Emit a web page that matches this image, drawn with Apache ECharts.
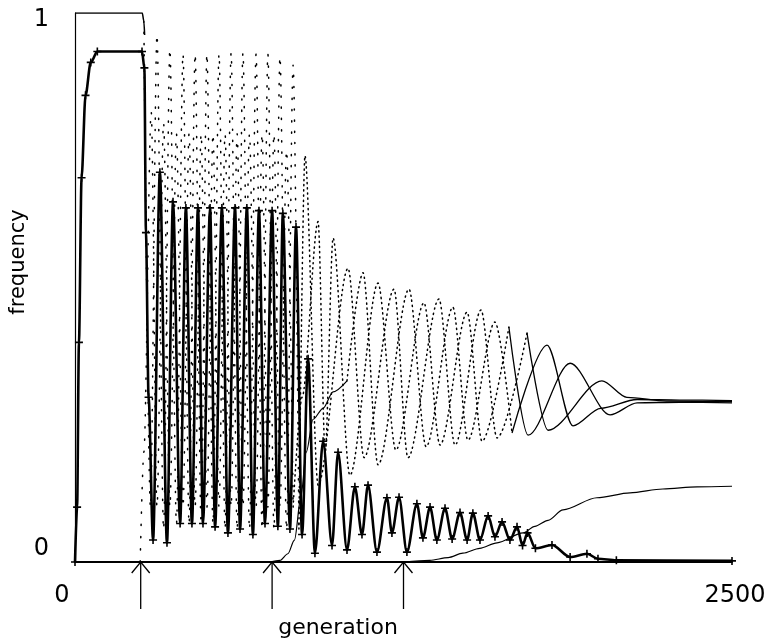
<!DOCTYPE html>
<html>
<head>
<meta charset="utf-8">
<script src="https://cdn.jsdelivr.net/npm/echarts@6/dist/echarts.min.js"></script>
<style>html,body{margin:0;padding:0;background:#fff}#c{width:776px;height:641px}</style>
</head>
<body>
<div id="c"></div>
<script>
// ---- data: [generation, frequency] ----
const xTicks = [0, 2500];
const yTicks = [0, 1];
const arrowGens = [250, 750, 1250];

// thin line at frequency 1 before the first introduction
const seriesA = [[0,1],[256,1],[262,0.985],[265,0.96]];

// thick line with crosses
const seriesB = [[0,0],[8,0.1],[15,0.4],[25,0.7],[40,0.85],[60,0.91],[85,0.93],[255,0.93],[264,0.9],[270,0.6],[280,0.3],[297,0.04],
  [323,0.71],[350,0.035],[373,0.656],[400,0.07],[422,0.645],[445,0.07],[468,0.645],[487,0.07],[514,0.645],[533,0.064],
  [559,0.645],[582,0.053],[609,0.645],[628,0.06],[654,0.645],[677,0.05],[700,0.64],[723,0.07],[750,0.64],[772,0.065],
  [791,0.635],[818,0.06],[841,0.61],[864,0.05],[887,0.37],[913,0.016],[944,0.22],[978,0.03],[1001,0.2],[1035,0.022],
  [1065,0.137],[1092,0.05],[1115,0.14],[1149,0.018],[1187,0.117],[1206,0.053],[1233,0.118],[1263,0.018],[1301,0.106],
  [1324,0.044],[1351,0.1],[1377,0.04],[1408,0.098],[1435,0.042],[1465,0.09],[1492,0.04],[1514,0.089],[1541,0.04],
  [1572,0.084],[1598,0.046],[1625,0.073],[1655,0.04],[1682,0.064],[1703,0.03],[1722,0.053],[1752,0.025],[1815,0.031],
  [1884,0.009],[1948,0.015],[1990,0.006],[2060,0.003],[2500,0.002]];

// dotted series falling from the top line: fast cycle, slower cycle, settling
const seriesC1 = [[262,0.985],[287,0.1],[312,0.96],[337,0.06],[361,0.934],[386,0.07],[411,0.925],[434,0.07],[457,0.925],
  [480,0.07],[502,0.925],[525,0.07],[548,0.925],[571,0.06],[594,0.927],[617,0.06],[639,0.927],[664,0.06],[689,0.925],
  [712,0.06],[734,0.925],[757,0.06],[780,0.92],[805,0.06],[830,0.905],[852,0.06]];
const seriesC2 = [[852,0.06],[875,0.74],[925,0.14],[1039,0.535],[1100,0.19],[1214,0.497],[1267,0.19],[1385,0.479],
  [1446,0.213],[1545,0.459],[1606,0.226],[1720,0.417]];
const seriesC3 = [[1720,0.417],[1800,0.24],[2005,0.33],[2100,0.3],[2250,0.293],[2500,0.292]];

// dotted series introduced at the first arrow
const seriesD1 = [[248,0],[262,0.2],[290,0.82],[312,0.1],[337,0.8],[361,0.1],[386,0.78],[411,0.1],[434,0.78],[457,0.1],
  [480,0.78],[502,0.1],[525,0.78],[548,0.1],[571,0.78],[594,0.1],[617,0.78],[639,0.1],[664,0.78],[689,0.1],[712,0.78],
  [734,0.1],[757,0.78],[780,0.1],[805,0.75],[830,0.1]];
const seriesD2 = [[830,0.1],[864,0.3],[925,0.62],[952,0.2],[982,0.59],[1046,0.158],[1153,0.508],[1221,0.204],[1328,0.472],
  [1389,0.213],[1492,0.455],[1549,0.22],[1651,0.428]];
const seriesD3 = [[1651,0.428],[1724,0.231],[1884,0.362],[2036,0.268],[2139,0.29],[2300,0.291],[2500,0.29]];

// thin series introduced at the second arrow (rise, cycling part, settling part)
const seriesE1 = [[742,0],[780,0.003],[810,0.015],[835,0.04],[860,0.12],[880,0.2],[906,0.26],[944,0.28],[982,0.31],[1035,0.33]];
const seriesE2 = [[1035,0.33],[1096,0.527],[1153,0.177],[1271,0.497],[1336,0.21],[1438,0.464],[1495,0.222],[1598,0.437],[1663,0.235]];
const seriesE3 = [[1663,0.235],[1796,0.395],[1895,0.248],[2000,0.28],[2139,0.296],[2300,0.295],[2500,0.294]];

// thin series introduced at the third arrow
const seriesG = [[1250,0],[1350,0.003],[1420,0.008],[1476,0.016],[1540,0.025],[1606,0.035],[1705,0.053],[1750,0.065],
  [1800,0.076],[1857,0.095],[1986,0.117],[2112,0.126],[2237,0.133],[2367,0.137],[2500,0.138]];

const FONT = 'DejaVu Sans';
const chart = echarts.init(document.getElementById('c'), null, {renderer: 'canvas'});

function lineSeries(data, opt) {
  return Object.assign({
    type: 'line', data: data, showSymbol: false, smooth: 0.3, smoothMonotone: 'x',
    lineStyle: {color: '#000', width: 1.2}, itemStyle: {color: '#000'}, z: 3, silent: true
  }, opt);
}
const dotted = (gap) => ({color: '#000', width: 1.5, type: [1.2, gap], cap: 'round'});
const solid = {color: '#000', width: 1.3};

chart.setOption({
  animation: false,
  backgroundColor: '#fff',
  grid: {left: 75, right: 44, top: 13, bottom: 79, containLabel: false},
  xAxis: {
    type: 'value', min: xTicks[0], max: xTicks[1], interval: xTicks[1] - xTicks[0],
    axisLine: {show: true, lineStyle: {color: '#000', width: 2}},
    axisTick: {show: false}, splitLine: {show: false},
    axisLabel: {
      margin: 22,
      formatter: v => v === 0 ? '{z|0}' : '{m|' + v + '}',
      rich: {
        z: {fontFamily: FONT, fontSize: 24, color: '#000', padding: [0, 26, 0, 0]},
        m: {fontFamily: FONT, fontSize: 24, color: '#000', padding: [0, 0, 0, 6]}
      }
    }
  },
  yAxis: {
    type: 'value', min: yTicks[0], max: yTicks[1], interval: 1,
    axisLine: {show: true, lineStyle: {color: '#000', width: 1.2}},
    axisTick: {show: false}, splitLine: {show: false},
    axisLabel: {
      margin: 26,
      formatter: v => v === 1 ? '{o|1}' : '{z|0}',
      rich: {
        o: {fontFamily: FONT, fontSize: 24, color: '#000', padding: [14, 0, 0, 0]},
        z: {fontFamily: FONT, fontSize: 24, color: '#000', padding: [0, 0, 26, 0]}
      }
    }
  },
  graphic: [
    {type: 'text', x: 338, y: 628, style: {text: 'generation', font: '22px ' + FONT, fill: '#000', textAlign: 'center', textVerticalAlign: 'middle'}},
    {type: 'text', x: 19, y: 262, rotation: Math.PI / 2, style: {text: 'frequency', font: '21px ' + FONT, fill: '#000', textAlign: 'center', textVerticalAlign: 'middle'}}
  ],
  series: [
    lineSeries(seriesA, {lineStyle: {color: '#000', width: 1.5}}),
    lineSeries(seriesC1, {lineStyle: dotted(10)}),
    lineSeries(seriesC2, {lineStyle: dotted(4)}),
    lineSeries(seriesC3, {lineStyle: solid}),
    lineSeries(seriesD1, {lineStyle: dotted(11)}),
    lineSeries(seriesD2, {lineStyle: dotted(4)}),
    lineSeries(seriesD3, {lineStyle: solid}),
    lineSeries(seriesE1, {lineStyle: {color: '#000', width: 1.2}}),
    lineSeries(seriesE2, {lineStyle: dotted(4)}),
    lineSeries(seriesE3, {lineStyle: solid}),
    lineSeries(seriesG, {lineStyle: {color: '#000', width: 1.2}}),
    lineSeries(seriesB, {
      lineStyle: {color: '#000', width: 2.6}, z: 5,
      showSymbol: true, showAllSymbol: true, symbolSize: 8,
      symbol: 'path://M4,0h2v10h-2zM0,4h10v2h-10z'
    }),
    {
      type: 'custom', data: arrowGens.map(g => [g, 0]), clip: false, z: 6, silent: true,
      encode: {x: 0, y: 1},
      renderItem: function (params, api) {
        const p = api.coord([api.value(0), api.value(1)]);
        return {
          type: 'group',
          children: [
            {type: 'line', shape: {x1: p[0], y1: p[1], x2: p[0], y2: p[1] + 47}, style: {stroke: '#000', lineWidth: 1.3}},
            {type: 'polyline', shape: {points: [[p[0] - 9, p[1] + 11], [p[0], p[1]], [p[0] + 9, p[1] + 11]]}, style: {stroke: '#000', fill: null, lineWidth: 1.3}}
          ]
        };
      }
    }
  ]
});
</script>
</body>
</html>
